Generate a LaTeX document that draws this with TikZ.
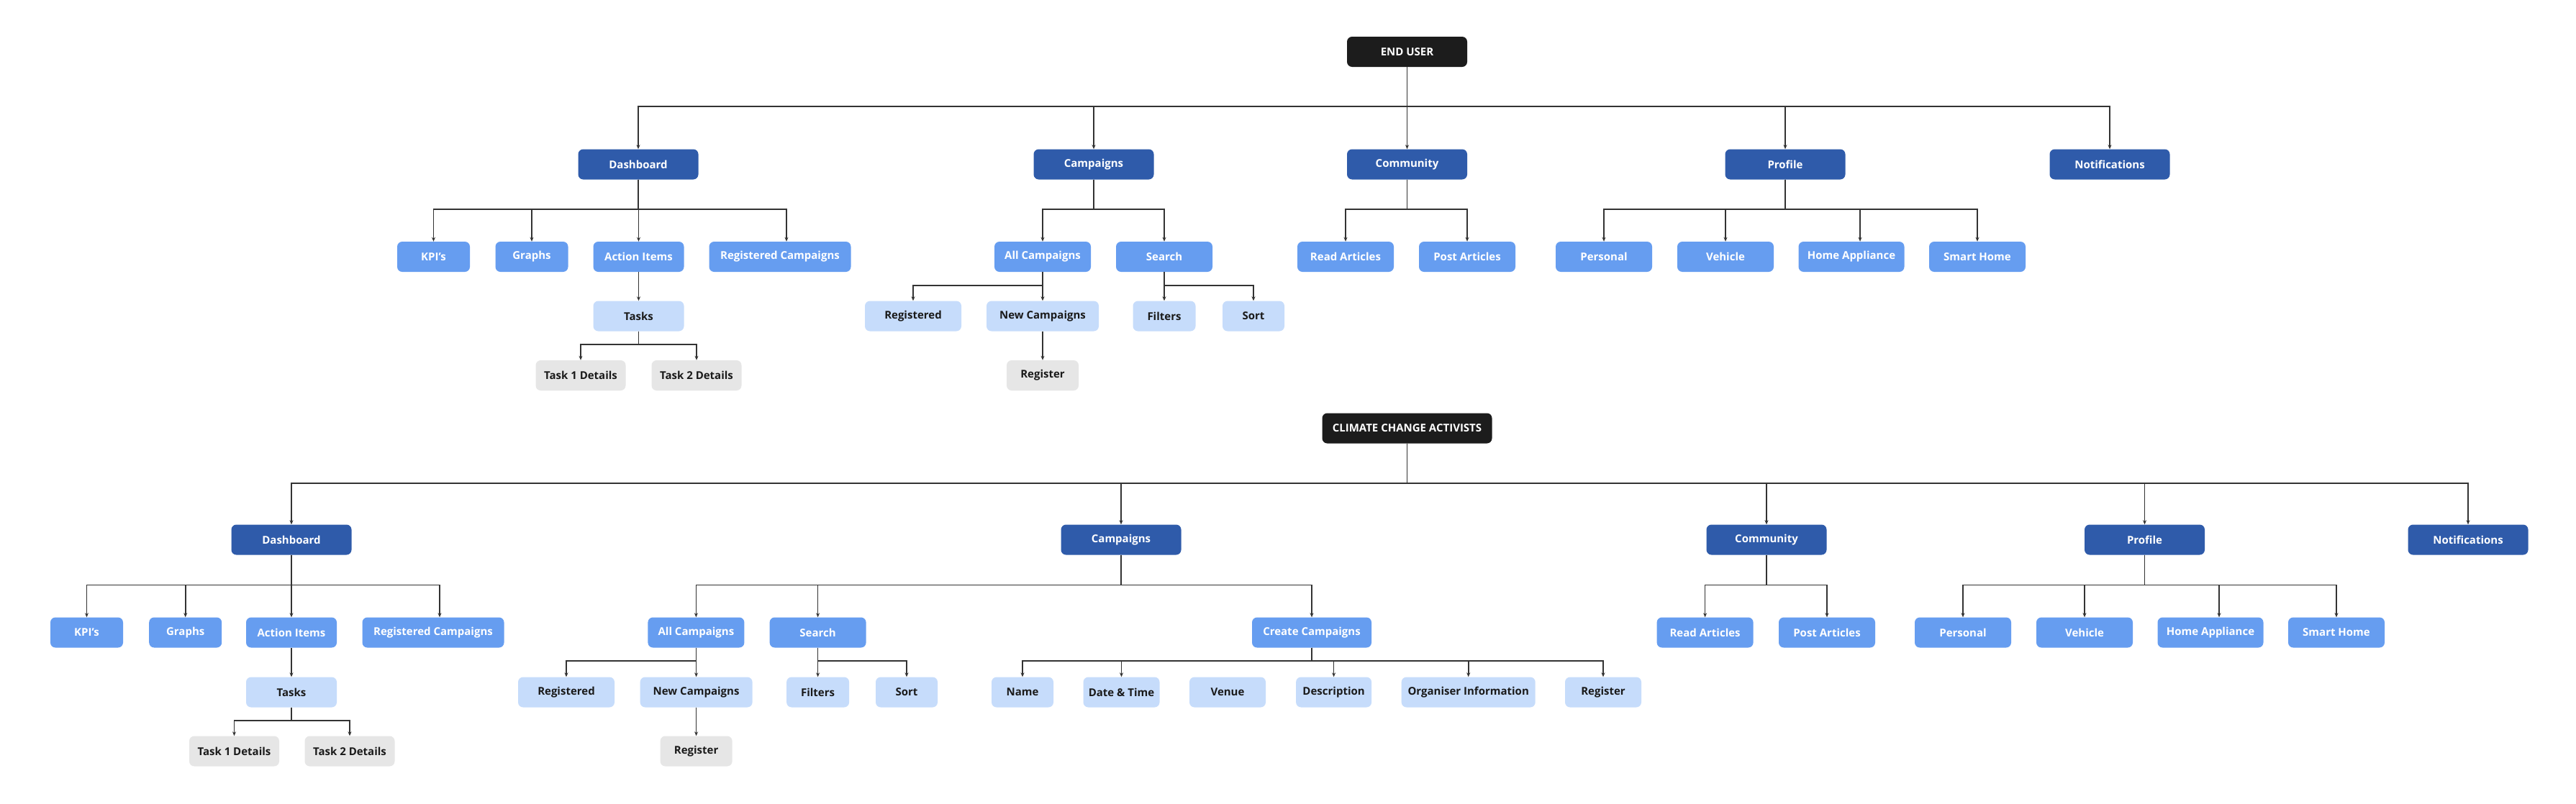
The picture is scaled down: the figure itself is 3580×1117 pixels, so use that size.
\documentclass[tikz,border=0pt]{standalone}
\usepackage{fontspec}
\setmainfont{Open Sans}
\usetikzlibrary{arrows.meta}
\definecolor{rootc}{HTML}{1C1C1C}
\definecolor{lonec}{HTML}{2F5BAA}
\definecolor{ltwoc}{HTML}{669DF0}
\definecolor{lthreec}{HTML}{C6DCFB}
\definecolor{lfourc}{HTML}{E6E6E6}
\definecolor{linec}{HTML}{333333}
\definecolor{darktext}{HTML}{1A1A1A}
\tikzset{
  box/.style={rounded corners=7pt, minimum height=42pt, inner sep=0pt, font=\bfseries\fontsize{15}{18}\selectfont},
  rootbox/.style={box, fill=rootc, text=white},
  lonebox/.style={box, fill=lonec, text=white},
  ltwobox/.style={box, fill=ltwoc, text=white},
  lthreebox/.style={box, fill=lthreec, text=darktext},
  lfourbox/.style={box, fill=lfourc, text=darktext},
  arr/.style={draw=linec, line width=1.6pt, -{Stealth[length=6pt,width=5pt]}}
}
\newcommand{\bx}[6]{\node[#2, minimum width=#5pt] (#1) at (#3,#4) {#6};}
\newcommand{\conn}[3]{\draw[arr] (#1.south) -- (#1.south |- #3) -| (#2.north);}
\newcommand{\connx}[4]{\draw[arr] (#1.south) -- (#1.south |- #3) -| ([xshift=#4pt]#2.north);}
\begin{document}
\begin{tikzpicture}[x=1pt,y=-1pt]
\fill[white] (0,0) rectangle (3580,1117);
\useasboundingbox (0,0) rectangle (3580,1117);
% ---------- bus coordinates
\coordinate (TB0) at (0,148);
\coordinate (TB1) at (0,291);
\coordinate (TB2) at (0,397);
\coordinate (TB3) at (0,479);
\coordinate (BB0) at (0,672);
\coordinate (BB1) at (0,813.5);
\coordinate (BB2) at (0,919);
\coordinate (BB3) at (0,1001.7);
% ---------- top tree
\bx{eu}{rootbox}{1955.5}{72}{167}{END USER}
\bx{tdash}{lonebox}{887}{228.5}{167}{Dashboard}
\bx{tcamp}{lonebox}{1520}{228.5}{167}{Campaigns}
\bx{tcomm}{lonebox}{1955.5}{228.5}{167}{Community}
\bx{tprof}{lonebox}{2481}{228.5}{167}{Profile}
\bx{tnotif}{lonebox}{2932}{228.5}{167}{Notifications}
\bx{tkpi}{ltwobox}{602.5}{357}{101}{KPI's}
\bx{tgraph}{ltwobox}{739}{357}{101}{Graphs}
\bx{taction}{ltwobox}{887.5}{357}{126}{Action Items}
\bx{tregc}{ltwobox}{1084}{357}{197}{Registered Campaigns}
\bx{tallc}{ltwobox}{1449}{357}{134}{All Campaigns}
\bx{tsearch}{ltwobox}{1618}{357}{134}{Search}
\bx{tread}{ltwobox}{1870}{357}{134}{Read Articles}
\bx{tpost}{ltwobox}{2039}{357}{134}{Post Articles}
\bx{tpers}{ltwobox}{2229}{357}{134}{Personal}
\bx{tveh}{ltwobox}{2398}{357}{134}{Vehicle}
\bx{thome}{ltwobox}{2573}{357}{147}{Home Appliance}
\bx{tsmart}{ltwobox}{2748}{357}{134}{Smart Home}
\bx{ttasks}{lthreebox}{887.5}{439.5}{126}{Tasks}
\bx{tregd}{lthreebox}{1269}{439.5}{134}{Registered}
\bx{tnewc}{lthreebox}{1449}{439.5}{156}{New Campaigns}
\bx{tfilt}{lthreebox}{1618}{439.5}{87}{Filters}
\bx{tsort}{lthreebox}{1742}{439.5}{86}{Sort}
\bx{tt1}{lfourbox}{807}{522}{125}{Task 1 Details}
\bx{tt2}{lfourbox}{968}{522}{125}{Task 2 Details}
\bx{treg}{lfourbox}{1449}{522}{100}{Register}
% top connectors
\conn{eu}{tdash}{TB0}
\conn{eu}{tcamp}{TB0}
\conn{eu}{tcomm}{TB0}
\conn{eu}{tprof}{TB0}
\conn{eu}{tnotif}{TB0}
\conn{tdash}{tkpi}{TB1}
\conn{tdash}{tgraph}{TB1}
\conn{tdash}{taction}{TB1}
\connx{tdash}{tregc}{TB1}{9}
\conn{tcamp}{tallc}{TB1}
\conn{tcamp}{tsearch}{TB1}
\conn{tcomm}{tread}{TB1}
\conn{tcomm}{tpost}{TB1}
\conn{tprof}{tpers}{TB1}
\conn{tprof}{tveh}{TB1}
\connx{tprof}{thome}{TB1}{12}
\conn{tprof}{tsmart}{TB1}
\draw[arr] (taction.south) -- (ttasks.north);
\conn{tallc}{tregd}{TB2}
\conn{tallc}{tnewc}{TB2}
\conn{tsearch}{tfilt}{TB2}
\conn{tsearch}{tsort}{TB2}
\conn{ttasks}{tt1}{TB3}
\conn{ttasks}{tt2}{TB3}
\draw[arr] (tnewc.south) -- (treg.north);
% ---------- bottom tree
\bx{cca}{rootbox}{1955.5}{595.5}{236}{CLIMATE CHANGE ACTIVISTS}
\bx{bdash}{lonebox}{405}{750.5}{167}{Dashboard}
\bx{bcamp}{lonebox}{1558}{750.5}{167}{Campaigns}
\bx{bcomm}{lonebox}{2455}{750.5}{167}{Community}
\bx{bprof}{lonebox}{2980.5}{750.5}{167}{Profile}
\bx{bnotif}{lonebox}{3430}{750.5}{167}{Notifications}
\bx{bkpi}{ltwobox}{120.5}{879.5}{101}{KPI's}
\bx{bgraph}{ltwobox}{257.7}{879.5}{101}{Graphs}
\bx{baction}{ltwobox}{405}{879.5}{126}{Action Items}
\bx{bregc}{ltwobox}{602}{879.5}{197}{Registered Campaigns}
\bx{ballc}{ltwobox}{967.4}{879.5}{134}{All Campaigns}
\bx{bsearch}{ltwobox}{1136.6}{879.5}{134}{Search}
\bx{bcreate}{ltwobox}{1823}{879.5}{166}{Create Campaigns}
\bx{bread}{ltwobox}{2369.6}{879.5}{134}{Read Articles}
\bx{bpost}{ltwobox}{2539}{879.5}{134}{Post Articles}
\bx{bpers}{ltwobox}{2728}{879.5}{134}{Personal}
\bx{bveh}{ltwobox}{2897}{879.5}{134}{Vehicle}
\bx{bhome}{ltwobox}{3072}{879.5}{147}{Home Appliance}
\bx{bsmart}{ltwobox}{3247}{879.5}{134}{Smart Home}
\bx{btasks}{lthreebox}{405}{962.5}{126}{Tasks}
\bx{bregd}{lthreebox}{787}{962.5}{134}{Registered}
\bx{bnewc}{lthreebox}{967.6}{962.5}{156}{New Campaigns}
\bx{bfilt}{lthreebox}{1136.6}{962.5}{87}{Filters}
\bx{bsort}{lthreebox}{1260}{962.5}{86}{Sort}
\bx{bname}{lthreebox}{1421}{962.5}{86}{Name}
\bx{bdate}{lthreebox}{1558.5}{962.5}{106}{Date \& Time}
\bx{bvenue}{lthreebox}{1706}{962.5}{106}{Venue}
\bx{bdesc}{lthreebox}{1853.6}{962.5}{105}{Description}
\bx{borg}{lthreebox}{2040.7}{962.5}{186}{Organiser Information}
\bx{bcreg}{lthreebox}{2228}{962.5}{106}{Register}
\bx{bt1}{lfourbox}{325.5}{1044.5}{125}{Task 1 Details}
\bx{bt2}{lfourbox}{486}{1044.5}{125}{Task 2 Details}
\bx{breg}{lfourbox}{967.6}{1044.5}{100}{Register}
% bottom connectors
\conn{cca}{bdash}{BB0}
\conn{cca}{bcamp}{BB0}
\conn{cca}{bcomm}{BB0}
\conn{cca}{bprof}{BB0}
\conn{cca}{bnotif}{BB0}
\conn{bdash}{bkpi}{BB1}
\conn{bdash}{bgraph}{BB1}
\conn{bdash}{baction}{BB1}
\connx{bdash}{bregc}{BB1}{9}
\conn{bcamp}{ballc}{BB1}
\conn{bcamp}{bsearch}{BB1}
\conn{bcamp}{bcreate}{BB1}
\conn{bcomm}{bread}{BB1}
\conn{bcomm}{bpost}{BB1}
\conn{bprof}{bpers}{BB1}
\conn{bprof}{bveh}{BB1}
\connx{bprof}{bhome}{BB1}{12}
\conn{bprof}{bsmart}{BB1}
\draw[arr] (baction.south) -- (btasks.north);
\conn{ballc}{bregd}{BB2}
\conn{ballc}{bnewc}{BB2}
\conn{bsearch}{bfilt}{BB2}
\conn{bsearch}{bsort}{BB2}
\conn{bcreate}{bname}{BB2}
\conn{bcreate}{bdate}{BB2}
\conn{bcreate}{bdesc}{BB2}
\conn{bcreate}{borg}{BB2}
\conn{bcreate}{bcreg}{BB2}
\conn{btasks}{bt1}{BB3}
\conn{btasks}{bt2}{BB3}
\draw[arr] (bnewc.south) -- (breg.north);
\end{tikzpicture}
\end{document}
